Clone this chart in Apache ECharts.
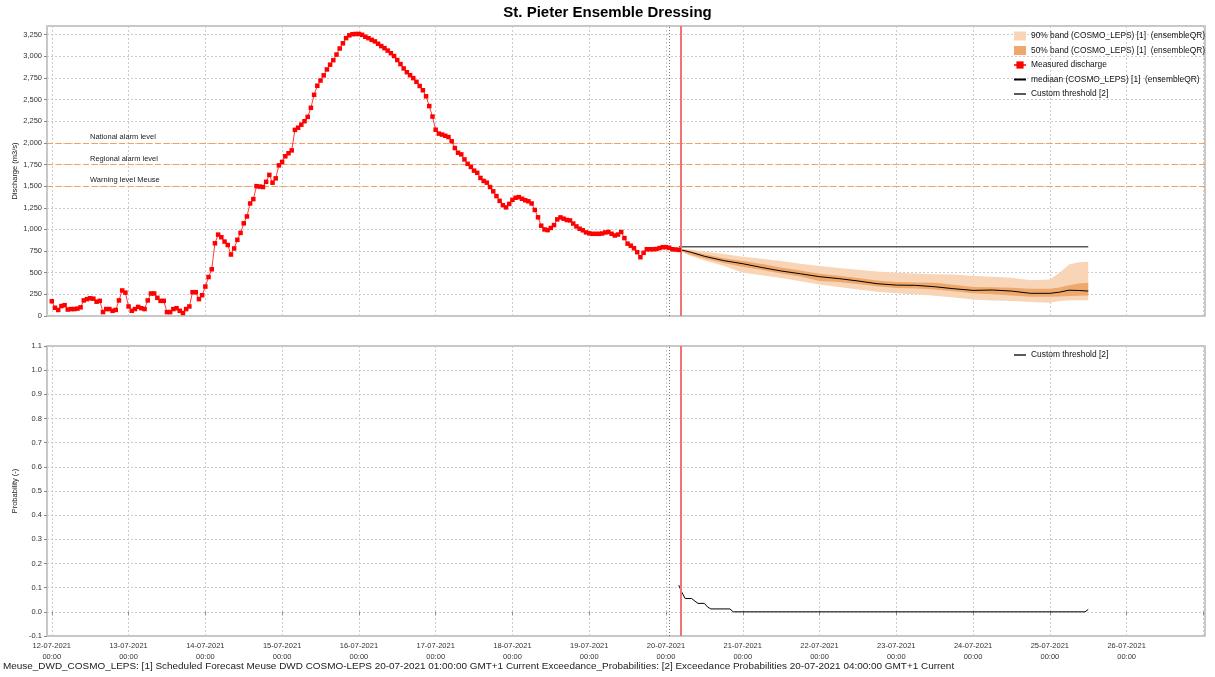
<!DOCTYPE html>
<html>
<head>
<meta charset="utf-8">
<title>St. Pieter Ensemble Dressing</title>
<script src="https://cdn.jsdelivr.net/npm/echarts@6.0.0/dist/echarts.min.js"></script>
<style>
  html, body { margin: 0; padding: 0; background: #fff; }
  #chart { width: 1215px; height: 677px; }
</style>
</head>
<body>
<div id="chart"></div>
<script>
// time base: 12-07-2021 00:00, all positions below are hours after it
const HOUR = 3600 * 1000;
const t0 = new Date(2021, 6, 12, 0, 0).getTime();

// measured discharge (m3/s), hourly from 12-07 00:00 to 20-07 04:00
const measured = [
  170, 95, 70, 115, 125, 75, 80, 80, 85, 100, 180, 195, 205, 200, 165, 175, 45, 80, 80, 60, 70, 180, 295, 270,
  110, 60, 80, 105, 90, 80, 180, 260, 260, 210, 175, 175, 45, 45, 80, 90, 60, 35, 80, 110, 275, 275, 195, 240,
  340, 450, 540, 840, 940, 910, 860, 820, 710, 780, 880, 960, 1070, 1150, 1300, 1350, 1500, 1495, 1490, 1550, 1630, 1540, 1590, 1740,
  1780, 1845, 1880, 1913, 2150, 2175, 2210, 2250, 2300, 2405, 2555, 2660, 2720, 2780, 2848, 2903, 2955, 3020, 3090, 3150, 3210, 3242, 3255, 3258,
  3258, 3248, 3226, 3209, 3190, 3172, 3145, 3118, 3094, 3066, 3036, 3003, 2957, 2910, 2860, 2816, 2782, 2748, 2705, 2657, 2608, 2538, 2425, 2304,
  2152, 2107, 2096, 2082, 2067, 2018, 1940, 1886, 1867, 1809, 1758, 1722, 1679, 1654, 1595, 1560, 1540, 1490, 1440, 1385, 1330, 1280, 1255, 1295,
  1342, 1366, 1373, 1354, 1337, 1325, 1300, 1225, 1140, 1043, 1000, 992, 1017, 1050, 1116, 1139, 1124, 1109, 1104, 1068, 1035, 1008, 990, 966,
  955, 949, 949, 949, 953, 965, 971, 950, 930, 941, 970, 900, 836, 812, 783, 737, 679, 730, 771, 771, 771, 774, 785, 795,
  795, 788, 771, 768, 764
];

// ensemble dressing forecast (COSMO_LEPS)
const fcHours = [196, 200, 204, 210, 216, 222, 228, 234, 240, 246, 252, 258, 264, 270, 276, 282, 288, 294, 300, 306, 312, 315, 318, 321, 324];
const median  = [770, 735, 690, 640, 604, 560, 520, 488, 454, 432, 405, 373, 357, 354, 338, 315, 296, 300, 288, 262, 262, 275, 298, 295, 288];
const q50lo   = [760, 705, 665, 612, 569, 530, 490, 455, 404, 392, 370, 345, 323, 318, 305, 285, 262, 252, 238, 223, 223, 225, 230, 235, 238];
const q50hi   = [775, 745, 712, 668, 635, 600, 560, 525, 488, 465, 440, 410, 392, 388, 385, 360, 335, 332, 327, 315, 315, 330, 355, 375, 385];
const q90lo   = [755, 690, 640, 580, 500, 470, 440, 400, 365, 335, 305, 280, 262, 250, 233, 215, 192, 180, 173, 162, 154, 173, 181, 181, 181];
const q90hi   = [780, 765, 745, 715, 685, 660, 635, 605, 577, 555, 535, 515, 500, 490, 483, 478, 462, 452, 442, 412, 423, 500, 596, 620, 627];

// custom threshold and its exceedance probability
const thresholdHours = [196, 324];
const thresholdValues = [800, 800];
const probHours  = [196, 197, 198, 200, 201, 202, 204, 205, 206, 212, 213, 323, 324];
const probValues = [0.11, 0.08, 0.055, 0.055, 0.045, 0.035, 0.035, 0.02, 0.012, 0.012, 0, 0, 0.01];

// warning levels
const levelValues = [2000, 1750, 1500];
const levelNames = ['National alarm level', 'Regional alarm level', 'Warning level Meuse'];

const forecastHour = 193;     // 20-07 01:00
const systemHour = 196.67;    // 20-07 04:40
const xMinHour = -1.5;
const xMaxHour = 360.5;
const lastLabelHour = 336;    // 26-07 00:00

const NAME90 = '90% band (COSMO_LEPS) [1]  (ensembleQR)';
const NAME50 = '50% band (COSMO_LEPS) [1]  (ensembleQR)';
const NAMEMEAS = 'Measured discharge';
const NAMEMED = 'mediaan (COSMO_LEPS) [1]  (ensembleQR)';
const NAMETHR = 'Custom threshold [2]';

const at = h => t0 + h * HOUR;
const pairs = (hours, vals) => hours.map((h, i) => [at(h), vals[i]]);
const diff = (hi, lo) => hi.map((v, i) => v - lo[i]);
const p2 = n => String(n).padStart(2, '0');

function dayLabel(value) {
    const d = new Date(value);
    if (d.getHours() !== 0 || d.getMinutes() !== 0 || value > at(lastLabelHour)) return '';
    return `${p2(d.getDate())}-${p2(d.getMonth() + 1)}-${d.getFullYear()}\n00:00`;
}

const FONT = 'Liberation Sans, Arial, sans-serif';
const gridLine = { show: true, lineStyle: { color: '#cccccc', type: [2, 2], width: 1 } };
const smallText = { fontSize: 7.5, color: '#333' };
const lineOnly = { itemStyle: { opacity: 0 } };
const legendText = { fontSize: 8.4, color: '#111', lineHeight: 10 };

// rotated y axis titles
function axisTitle(text, y) {
    return {
        type: 'text', x: 15, y: y, rotation: Math.PI / 2, silent: true,
        style: { text: text, fontSize: 7.5, fontFamily: FONT, fill: '#222', align: 'center', verticalAlign: 'middle' }
    };
}

const chart = echarts.init(document.getElementById('chart'));

const option = {
    animation: false,
    textStyle: { fontFamily: FONT },
    title: [
        {
            text: 'St. Pieter Ensemble Dressing', left: 'center', top: 5, padding: 0,
            textStyle: { fontSize: 15, fontWeight: 'bold', color: '#000' }
        },
        {
            text: 'Meuse_DWD_COSMO_LEPS: [1] Scheduled Forecast Meuse DWD COSMO-LEPS 20-07-2021 01:00:00 GMT+1 Current Exceedance_Probabilities: [2] Exceedance Probabilities 20-07-2021 04:00:00 GMT+1 Current',
            left: 3, top: 661, padding: 0,
            textStyle: { fontSize: 9.95, fontWeight: 'normal', color: '#222' }
        }
    ],
    graphic: [
        axisTitle('Discharge (m3/s)', 171),
        axisTitle('Probability (-)', 491)
    ],
    legend: [
        {
            orient: 'vertical', left: 1013, top: 31, padding: 0,
            itemWidth: 12, itemHeight: 9, itemGap: 4.5,
            textStyle: legendText,
            data: [
                { name: NAME90, icon: 'rect' },
                { name: NAME50, icon: 'rect' },
                NAMEMEAS,
                Object.assign({ name: NAMEMED }, lineOnly),
                Object.assign({ name: NAMETHR }, lineOnly)
            ]
        },
        {
            orient: 'vertical', left: 1013, top: 350, padding: 0,
            itemWidth: 12, itemHeight: 9,
            textStyle: legendText,
            data: [Object.assign({ name: NAMETHR }, lineOnly)]
        }
    ],
    grid: [
        { left: 47, right: 10, top: 26, height: 290, outerBoundsMode: 'none', containLabel: false, show: true, borderColor: '#b4b4b4', borderWidth: 1.5 },
        { left: 47, right: 10, top: 346, height: 290, outerBoundsMode: 'none', containLabel: false, show: true, borderColor: '#b4b4b4', borderWidth: 1.5 }
    ],
    xAxis: [
        {
            gridIndex: 0, type: 'time', min: at(xMinHour), max: at(xMaxHour),
            minInterval: 24 * HOUR, maxInterval: 24 * HOUR,
            axisLine: { show: false }, axisTick: { show: false }, axisLabel: { show: false },
            splitLine: gridLine
        },
        {
            gridIndex: 1, type: 'time', min: at(xMinHour), max: at(xMaxHour),
            minInterval: 24 * HOUR, maxInterval: 24 * HOUR,
            axisLine: { show: false },
            axisTick: { show: true, length: 3, lineStyle: { color: '#888' } },
            axisLabel: Object.assign({ formatter: dayLabel, margin: 4, lineHeight: 11 }, smallText),
            splitLine: gridLine
        }
    ],
    yAxis: [
        {
            gridIndex: 0, type: 'value', min: 0, max: 3350, interval: 250,
            axisLine: { show: false },
            axisTick: { show: true, length: 3, lineStyle: { color: '#888' } },
            axisLabel: Object.assign({ margin: 5, showMaxLabel: false, formatter: v => v.toLocaleString('en-US') }, smallText),
            splitLine: gridLine
        },
        {
            gridIndex: 1, type: 'value', min: -0.1, max: 1.1, interval: 0.1,
            axisLine: { show: false },
            axisTick: { show: true, length: 3, lineStyle: { color: '#888' } },
            axisLabel: Object.assign({ margin: 5, formatter: v => v.toFixed(1) }, smallText),
            splitLine: gridLine
        }
    ],
    series: [
        {
            name: 'q90lo', type: 'line', stack: 'q90', symbol: 'none', silent: true,
            xAxisIndex: 0, yAxisIndex: 0,
            lineStyle: { opacity: 0 }, data: pairs(fcHours, q90lo)
        },
        {
            name: NAME90, type: 'line', stack: 'q90', symbol: 'none', silent: true,
            xAxisIndex: 0, yAxisIndex: 0,
            itemStyle: { color: '#f8d5b7' },
            lineStyle: { opacity: 0 }, areaStyle: { color: '#f8d5b7', opacity: 1 },
            data: pairs(fcHours, diff(q90hi, q90lo))
        },
        {
            name: 'q50lo', type: 'line', stack: 'q50', symbol: 'none', silent: true,
            xAxisIndex: 0, yAxisIndex: 0,
            lineStyle: { opacity: 0 }, data: pairs(fcHours, q50lo)
        },
        {
            name: NAME50, type: 'line', stack: 'q50', symbol: 'none', silent: true,
            xAxisIndex: 0, yAxisIndex: 0,
            itemStyle: { color: '#efa86c' },
            lineStyle: { opacity: 0 }, areaStyle: { color: '#efa86c', opacity: 1 },
            data: pairs(fcHours, diff(q50hi, q50lo))
        },
        {
            name: NAMEMED, type: 'line', symbol: 'none',
            xAxisIndex: 0, yAxisIndex: 0,
            itemStyle: { color: '#000' }, lineStyle: { color: '#000', width: 1 },
            data: pairs(fcHours, median)
        },
        {
            name: NAMETHR, type: 'line', symbol: 'none',
            xAxisIndex: 0, yAxisIndex: 0,
            itemStyle: { color: '#5a5a5a' }, lineStyle: { color: '#5a5a5a', width: 1.5 },
            data: pairs(thresholdHours, thresholdValues)
        },
        {
            name: NAMEMEAS, type: 'line', symbol: 'rect', symbolSize: 4.5,
            xAxisIndex: 0, yAxisIndex: 0, z: 5,
            itemStyle: { color: '#ff0000' }, lineStyle: { color: '#ff3a3a', width: 1 },
            data: measured.map((v, i) => [at(i), v]),
            markLine: {
                silent: true, symbol: 'none', animation: false,
                data: levelValues.map((v, i) => ({
                    yAxis: v,
                    lineStyle: { color: '#f4a15a', type: [6, 3], width: 1 },
                    label: {
                        show: true, formatter: levelNames[i], position: 'insideStartTop',
                        distance: 2, padding: [0, 0, 0, 41],
                        fontSize: 7.5, color: '#222'
                    }
                })).concat([
                    { xAxis: at(forecastHour), lineStyle: { color: '#777', type: [1, 2], width: 1 }, label: { show: false } },
                    { xAxis: at(systemHour), lineStyle: { color: '#f07474', type: 'solid', width: 2 }, label: { show: false } }
                ])
            }
        },
        {
            name: NAMETHR, type: 'line', symbol: 'none',
            xAxisIndex: 1, yAxisIndex: 1,
            itemStyle: { color: '#000' }, lineStyle: { color: '#000', width: 1 },
            data: pairs(probHours, probValues),
            markLine: {
                silent: true, symbol: 'none', animation: false, label: { show: false },
                data: [
                    { xAxis: at(forecastHour), lineStyle: { color: '#777', type: [1, 2], width: 1 } },
                    { xAxis: at(systemHour), lineStyle: { color: '#f07474', type: 'solid', width: 2 } }
                ]
            }
        }
    ]
};

chart.setOption(option);
</script>
</body>
</html>
